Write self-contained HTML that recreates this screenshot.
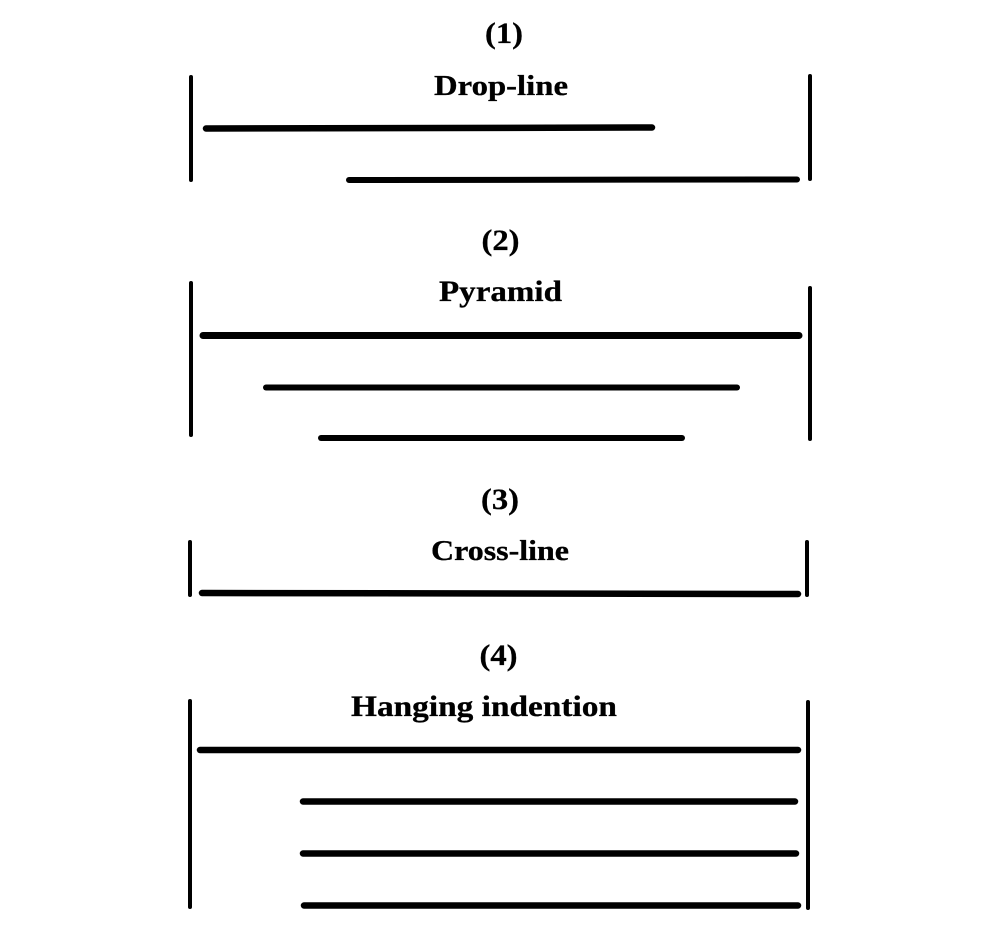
<!DOCTYPE html>
<html>
<head>
<meta charset="utf-8">
<title>Headline forms</title>
<style>
html,body{margin:0;padding:0;background:#fff;}
svg{display:block;}
text{font-family:"Liberation Serif",serif;font-weight:bold;fill:#000;text-anchor:middle;stroke:#000;stroke-width:.3px;}
line{stroke:#000;stroke-linecap:round;}
</style>
</head>
<body>
<svg width="1000" height="930" viewBox="0 0 1000 930">
<g>
<text x="504" y="43" font-size="30" textLength="38" lengthAdjust="spacingAndGlyphs">(1)</text>
<text x="501" y="95" font-size="29" textLength="134" lengthAdjust="spacingAndGlyphs">Drop-line</text>
<line x1="191" y1="77" x2="191" y2="180" stroke-width="4"/>
<line x1="810" y1="76" x2="810" y2="179" stroke-width="4"/>
<line x1="206" y1="128.500" x2="652" y2="127.500" stroke-width="6.500"/>
<line x1="349" y1="180" x2="797" y2="179.500" stroke-width="6"/>
</g>
<g>
<text x="500.500" y="250" font-size="30" textLength="38" lengthAdjust="spacingAndGlyphs">(2)</text>
<text x="500.500" y="301" font-size="30" textLength="123" lengthAdjust="spacingAndGlyphs">Pyramid</text>
<line x1="191" y1="283" x2="191" y2="435" stroke-width="4"/>
<line x1="810" y1="288" x2="810" y2="439" stroke-width="4"/>
<line x1="203" y1="335.500" x2="799" y2="335.500" stroke-width="7"/>
<line x1="266" y1="387.500" x2="737" y2="387.500" stroke-width="6"/>
<line x1="321" y1="438" x2="682" y2="438" stroke-width="6"/>
</g>
<g>
<text x="500" y="509" font-size="30" textLength="38" lengthAdjust="spacingAndGlyphs">(3)</text>
<text x="500" y="560" font-size="29" textLength="138" lengthAdjust="spacingAndGlyphs">Cross-line</text>
<line x1="190" y1="542" x2="190" y2="595" stroke-width="4"/>
<line x1="807" y1="542" x2="807" y2="595" stroke-width="4"/>
<line x1="202" y1="593" x2="798" y2="594" stroke-width="6.500"/>
</g>
<g>
<text x="498.500" y="665" font-size="30" textLength="38" lengthAdjust="spacingAndGlyphs">(4)</text>
<text x="484" y="716" font-size="30" textLength="266" lengthAdjust="spacingAndGlyphs">Hanging indention</text>
<line x1="190" y1="701" x2="190" y2="907" stroke-width="4"/>
<line x1="808" y1="702" x2="808" y2="908" stroke-width="4"/>
<line x1="200" y1="750" x2="798" y2="750" stroke-width="6.500"/>
<line x1="303" y1="801.500" x2="795" y2="801.500" stroke-width="6.500"/>
<line x1="303" y1="853.500" x2="796" y2="853.500" stroke-width="6.500"/>
<line x1="304" y1="905.500" x2="798" y2="905.500" stroke-width="6.500"/>
</g>
</svg>
</body>
</html>
